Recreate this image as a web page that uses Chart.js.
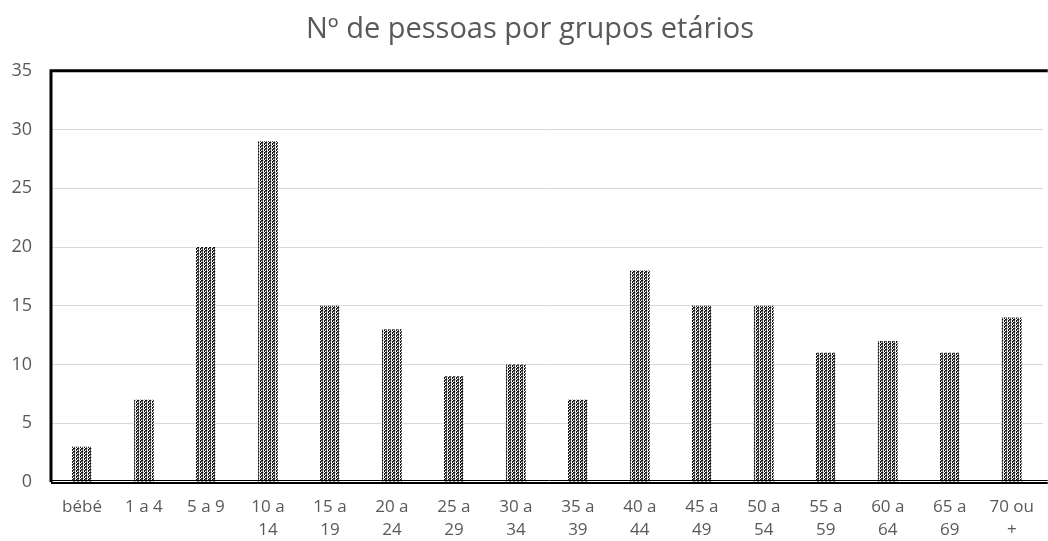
<!DOCTYPE html>
<html>
<head>
<meta charset="utf-8">
<script src="https://cdn.jsdelivr.net/npm/chart.js@4/dist/chart.umd.min.js"></script>
<style>
  html, body { margin: 0; padding: 0; background: #fff; overflow: hidden; }
  #wrap { width: 1048px; height: 541px; }
</style>
</head>
<body>
<div id="wrap"><canvas id="myChart"></canvas></div>
<script>
const grupos = [
    'bébé', '1 a 4', '5 a 9', ['10 a', '14'], ['15 a', '19'], ['20 a', '24'],
    ['25 a', '29'], ['30 a', '34'], ['35 a', '39'], ['40 a', '44'], ['45 a', '49'],
    ['50 a', '54'], ['55 a', '59'], ['60 a', '64'], ['65 a', '69'], ['70 ou', '+']
];
const pessoas = [3, 7, 20, 29, 15, 13, 9, 10, 7, 18, 15, 15, 11, 12, 11, 14];
const yMax = 35;
const yStep = 5;

// padrão pontilhado das barras
function makePattern() {
    const c = document.createElement('canvas');
    c.width = 4; c.height = 3;
    const p = c.getContext('2d');
    p.fillStyle = '#fff';
    p.fillRect(0, 0, 4, 3);
    p.fillStyle = '#111';
    p.fillRect(0, 0, 1, 1);
    p.fillRect(1, 1, 1, 1);
    p.fillRect(0, 2, 1, 1);
    p.fillRect(2, 1, 1, 1);
    p.fillStyle = '#555';
    p.fillRect(2, 0, 1, 1);
    p.fillRect(1, 2, 1, 1);
    p.fillRect(2, 2, 1, 1);
    p.fillStyle = '#bbb';
    p.fillRect(3, 1, 1, 1);
    return p.createPattern(c, 'repeat');
}

const ctx = document.getElementById('myChart').getContext('2d');

// moldura preta (topo, esquerda, base)
const moldura = {
    id: 'moldura',
    afterDatasetsDraw(chart) {
        const a = chart.chartArea;
        const c = chart.ctx;
        c.save();
        c.strokeStyle = '#000';
        c.lineWidth = 3;
        c.beginPath();
        c.moveTo(a.left, a.bottom);
        c.lineTo(a.left, a.top);
        c.lineTo(a.right + 5, a.top);
        c.stroke();
        c.lineWidth = 2;
        c.beginPath();
        c.moveTo(a.left, a.bottom + 1);
        c.lineTo(a.right + 5, a.bottom + 1);
        c.stroke();
        c.lineWidth = 1;
        c.beginPath();
        c.moveTo(a.left, a.bottom - 1.5);
        c.lineTo(a.right + 5, a.bottom - 1.5);
        c.stroke();
        c.restore();
    }
};

let myChart = new Chart(ctx, {
    type: 'bar',
    data: {
        labels: grupos,
        datasets: [{
            label: 'Nº de pessoas',
            data: pessoas,
            backgroundColor: makePattern(),
            borderWidth: 0,
            categoryPercentage: 1,
            barPercentage: 0.32
        }]
    },
    options: {
        responsive: true,
        maintainAspectRatio: false,
        animation: false,
        layout: { padding: { left: 12, right: 0, top: 0, bottom: 0 } },
        plugins: {
            legend: { display: false },
            tooltip: { enabled: false },
            title: {
                display: true,
                text: 'Nº de pessoas por grupos etários',
                color: '#595959',
                font: { family: 'Open Sans', size: 29, weight: 'normal' },
                padding: { top: 12, bottom: 24 }
            }
        },
        scales: {
            x: {
                grid: { display: false, drawTicks: false },
                border: { display: false },
                afterFit(scale) { scale.height = 59; },
                ticks: {
                    color: '#595959',
                    font: { family: 'Open Sans', size: 17, lineHeight: 1.353 },
                    padding: 14,
                    maxRotation: 0,
                    autoSkip: false
                }
            },
            y: {
                min: 0,
                max: yMax,
                grid: { color: '#d9d9d9', drawTicks: false },
                border: { display: false },
                afterFit(scale) { scale.width = 39; },
                ticks: {
                    stepSize: yStep,
                    color: '#595959',
                    font: { family: 'Open Sans', size: 18 },
                    padding: 19
                }
            }
        }
    },
    plugins: [moldura]
});
</script>
</body>
</html>
